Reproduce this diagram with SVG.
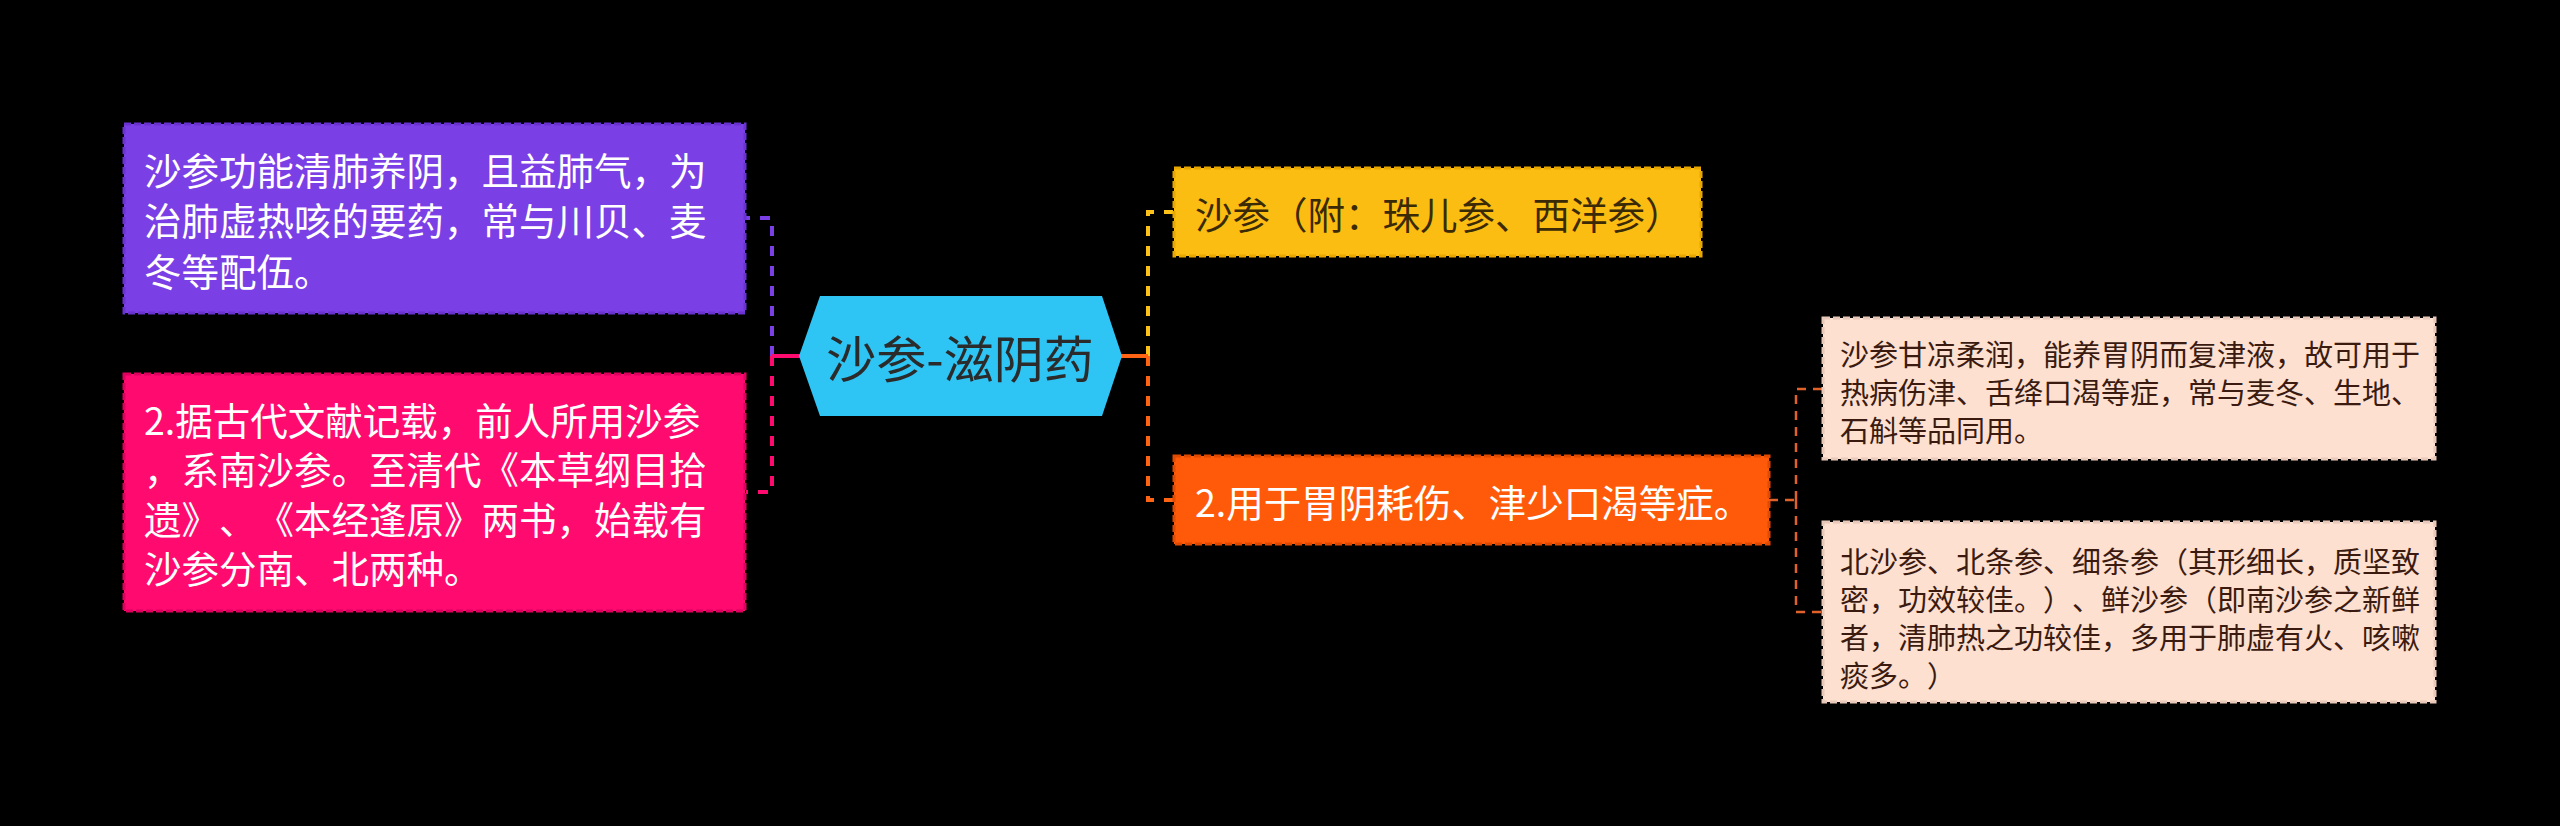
<svg xmlns="http://www.w3.org/2000/svg" width="2560" height="826" viewBox="0 0 2560 826">
<defs>
<style>
.t{font-family:"Noto Sans CJK SC","Noto Sans",sans-serif;dominant-baseline:central;text-spacing-trim:space-all;font-feature-settings:"chws" 0,"halt" 0}
.l1{font-size:37.5px}
.l2{font-size:29px;fill:#3b1b10}
.w{fill:#ffffff}
.box{stroke-width:3;stroke-dasharray:7 3}
.main{fill:none;stroke-width:4;stroke-dasharray:10 10}
.solid{fill:none;stroke-width:4}
.sub{fill:none;stroke:#e0622a;stroke-width:2.5;stroke-dasharray:9 7}
</style>
</defs>
<rect x="0" y="0" width="2560" height="826" fill="#000000"/>
<g id="connectors">
<path class="main" stroke="#7b3fe6" d="M772,356 V218 H746"/>
<path class="main" stroke="#ff0a6e" d="M772,356 V492 H746"/>
<path class="solid" stroke="#ff0a6e" d="M800,356 H772"/>
<path class="main" stroke="#fcc21a" d="M1148,356 V212 H1173"/>
<path class="main" stroke="#ff6414" d="M1148,356 V500 H1173"/>
<path class="solid" stroke="#ff6414" d="M1121,356 H1148"/>
<path class="sub" d="M1769,500 H1796"/>
<path class="sub" d="M1796,500 V389 H1822"/>
<path class="sub" d="M1796,500 V612 H1822"/>
</g>
<g id="center">
<polygon points="799,356 820,296 1102,296 1122,356 1102,416 820,416" fill="#2ec4f4"/>
<text class="t" x="960" y="356" font-size="50" fill="#2b2b2b" text-anchor="middle">沙参-滋阴药</text>
</g>
<g id="n1">
<rect class="box" x="124" y="124" width="621" height="189" fill="#7b3fe6" stroke="#6a32d0"/>
<text class="t l1 w" x="144" y="168">沙参功能清肺养阴，且益肺气，为</text>
<text class="t l1 w" x="144" y="218.5">治肺虚热咳的要药，常与川贝、麦</text>
<text class="t l1 w" x="144" y="269">冬等配伍。</text>
</g>
<g id="n2">
<rect class="box" x="124" y="374" width="621" height="237" fill="#ff0a6e" stroke="#e00060"/>
<text class="t l1 w" x="144" y="418">2.据古代文献记载，前人所用沙参</text>
<text class="t l1 w" x="144" y="467.5">，系南沙参。至清代《本草纲目拾</text>
<text class="t l1 w" x="144" y="517">遗》、《本经逢原》两书，始载有</text>
<text class="t l1 w" x="144" y="566">沙参分南、北两种。</text>
</g>
<g id="n3">
<rect class="box" x="1174" y="168" width="527" height="88" fill="#fcbd12" stroke="#e8a800"/>
<text class="t l1" x="1195" y="212" fill="#3a2a05">沙参（附：珠儿参、西洋参）</text>
</g>
<g id="n4">
<rect class="box" x="1174" y="456" width="595" height="88" fill="#ff5a0a" stroke="#e04a00"/>
<text class="t l1 w" x="1195" y="500">2.用于胃阴耗伤、津少口渴等症。</text>
</g>
<g id="n5">
<rect class="box" x="1823" y="318" width="612" height="141" fill="#fde0d0" stroke="#e8c8b8"/>
<text class="t l2" x="1840" y="353">沙参甘凉柔润，能养胃阴而复津液，故可用于</text>
<text class="t l2" x="1840" y="391">热病伤津、舌绛口渴等症，常与麦冬、生地、</text>
<text class="t l2" x="1840" y="429">石斛等品同用。</text>
</g>
<g id="n6">
<rect class="box" x="1823" y="522" width="612" height="180" fill="#fde0d0" stroke="#e8c8b8"/>
<text class="t l2" x="1840" y="560">北沙参、北条参、细条参（其形细长，质坚致</text>
<text class="t l2" x="1840" y="598">密，功效较佳。）、鲜沙参（即南沙参之新鲜</text>
<text class="t l2" x="1840" y="636">者，清肺热之功较佳，多用于肺虚有火、咳嗽</text>
<text class="t l2" x="1840" y="674">痰多。）</text>
</g>
</svg>
